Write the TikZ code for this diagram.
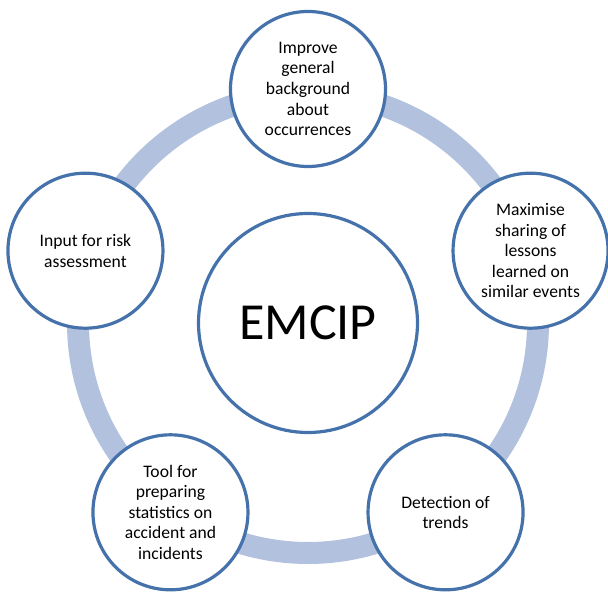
\documentclass[tikz,border=0pt]{standalone}
\usepackage{fontspec}
\setmainfont{Carlito}
\usetikzlibrary{positioning,calc}
\usepackage{xcolor}
\definecolor{rimblue}{HTML}{4672AC}
\definecolor{ringblue}{HTML}{B2C2DE}

\begin{document}
\begin{tikzpicture}[x=1pt,y=1pt,
  goal/.style={circle,draw=rimblue,line width=3.2pt,fill=white,minimum size=155pt,
               inner sep=0pt,align=center,font=\fontsize{17.6}{20.6}\selectfont},
  hubring/.style={draw=ringblue,line width=22pt}]
  \useasboundingbox (0,0) rectangle (608,592);
  \coordinate (mid) at (308,269);
  % pale ring behind the five goals
  \draw[hubring] (mid) circle (230);
  \node[goal] (improve)  at ($(mid)+(90:234)$)  {Improve\\general\\background\\about\\occurrences};
  \node[goal] (sharing)  at ($(mid)+(18:234)$)  {Maximise\\sharing of\\lessons\\learned on\\similar events};
  \node[goal] (trends)   at ($(mid)+(-54:234)$) {Detection of\\trends};
  \node[goal] (stats)    at ($(mid)+(-126:234)$) {Tool for\\preparing\\statistics on\\accident and\\incidents};
  \node[goal] (risk)     at ($(mid)+(162:234)$) {Input for risk\\assessment};
  % centre
  \node[circle,draw=rimblue,line width=3.2pt,fill=white,minimum size=219pt,inner sep=0pt,
        font=\fontsize{52}{62}\selectfont] (emcip) at (mid) {EMCIP};
\end{tikzpicture}
\end{document}
